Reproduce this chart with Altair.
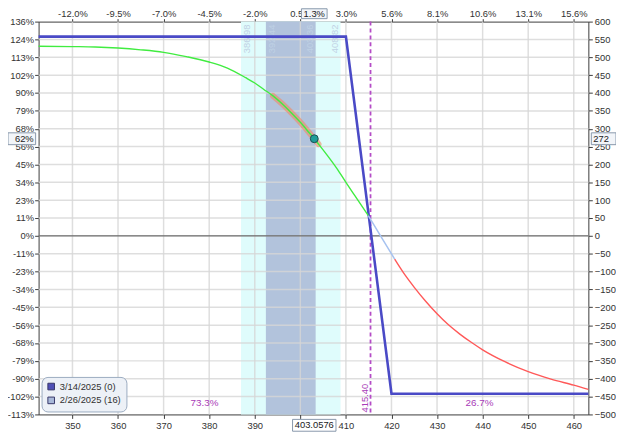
import json
import altair as alt
import pandas as pd

FONT = "Tahoma, 'Liberation Sans', Arial, sans-serif"

# ---------------- data ----------------
x_domain = [342.57, 463.2]
y_domain = [-500, 600]
x_ticks = [350, 360, 370, 380, 390, 400, 410, 420, 430, 440, 450, 460]
top_labels = ["-12.0%", "-9.5%", "-7.0%", "-4.5%", "-2.0%", "0.5%", "3.0%",
              "5.6%", "8.1%", "10.6%", "13.1%", "15.6%"]
y_ticks = list(range(-500, 601, 50))
left_labels = ["-113%", "-102%", "-90%", "-79%", "-68%", "-56%", "-45%", "-34%",
               "-23%", "-11%", "0%", "11%", "23%", "34%", "45%", "56%", "68%",
               "79%", "90%", "102%", "113%", "124%", "136%"]

# expiration P&L (3/14/2025)
exp_price = [342.57, 410.0, 420.0, 463.2]
exp_pl = [558, 558, -442, -442]

# T+0 P&L (2/26/2025): green (profit), pale blue (near zero), red (loss)
green_price = [342.57, 350, 355, 360, 365, 370, 375, 380, 384, 388, 390, 392, 394,
               396, 398, 400, 402, 403.06, 404, 406, 408, 410, 412, 414.92]
green_pl = [531, 530, 529, 526, 521, 514, 502, 487, 470, 443, 428, 410, 392,
            370, 345, 318, 288, 272, 257, 224, 189, 150, 112, 57]
pale_price = [414.92, 417.6, 420.7]
pale_pl = [57, 0, -65]
red_price = [420.7, 423, 425, 427.5, 430, 432.5, 435, 437.5, 440, 445, 450, 455, 460, 463.2]
red_pl = [-65, -110, -144, -183, -218, -249, -275, -298, -319, -353, -380, -401, -418, -430]

highlight_range = [394, 404]

outer_band = [386.98, 408.82]
inner_band = [392.44, 403.36]
band_left_labels = ["386.98", "392.44"]
band_right_labels = ["403.36", "408.82"]

breakeven = 415.40
breakeven_label = "415.40"
prob_labels = ["73.3%", "26.7%"]

current_price = 403.0576
current_price_label = "403.0576"
current_pct_label = "1.3%"
current_pl = 272
current_pl_label = "272"
current_pl_pct_label = "62%"

legend_labels = ["3/14/2025 (0)", "2/26/2025 (16)"]
legend_colors = ["#5050b6", "#a9b9d9"]

# ---------------- layout ----------------
W, H = 557, 398
xs = alt.Scale(domain=x_domain, nice=False, zero=False)
ys = alt.Scale(domain=y_domain, nice=False, zero=False)


def xq(f):
    return alt.X(f, type="quantitative", scale=xs, axis=None)


def yq(f):
    return alt.Y(f, type="quantitative", scale=ys, axis=None)


def box_path(w, h):
    a, b = w / 20.0, h / 20.0
    return f"M{-a},{-b}H{a}V{b}H{-a}Z"


axis_common = dict(title=None, grid=False, domainColor="#3a3a3a", tickColor="#3a3a3a",
                   labelColor="#333333", labelFont=FONT, labelFontSize=9.5,
                   labelFlush=False, labelOverlap=False, domainWidth=1)

top_expr = f"{json.dumps(top_labels)}[round((datum.value - {x_ticks[0]}) / 10)]"
left_expr = f"{json.dumps(left_labels)}[round((datum.value - ({y_ticks[0]})) / 50)]"
# the 400 label sits under the current-price box
bottom_expr = "datum.value == 400 ? '' : datum.label"

# ---------------- layers ----------------
outer = alt.Chart(pd.DataFrame({"lo": [outer_band[0]], "hi": [outer_band[1]]})).mark_rect(
    color="#dffcfc").encode(x=xq("lo"), x2="hi")
inner = alt.Chart(pd.DataFrame({"lo": [inner_band[0]], "hi": [inner_band[1]]})).mark_rect(
    color="#b2c3dc").encode(x=xq("lo"), x2="hi")

vgrid = alt.Chart(pd.DataFrame({"x": x_ticks})).mark_rule(
    color="#d6d6d6", strokeWidth=1.5, opacity=0.8).encode(x=xq("x"))
hgrid = alt.Chart(pd.DataFrame({"y": y_ticks})).transform_filter(
    "datum.y > -500 && datum.y < 600").mark_rule(
    color="#d6d6d6", strokeWidth=1.5, opacity=0.8).encode(y=yq("y"))

blab_l = alt.Chart(pd.DataFrame({"x": [outer_band[0], inner_band[0]], "t": band_left_labels})).mark_text(
    angle=270, align="right", baseline="middle", dx=-3, dy=6, font=FONT, fontSize=9.5,
    color="#bfd1e4").encode(x=xq("x"), y=alt.value(0), text="t:N")
blab_r = alt.Chart(pd.DataFrame({"x": [inner_band[1], outer_band[1]], "t": band_right_labels})).mark_text(
    angle=270, align="right", baseline="middle", dx=-3, dy=-6, font=FONT, fontSize=9.5,
    color="#bfd1e4").encode(x=xq("x"), y=alt.value(0), text="t:N")

zero = alt.Chart(pd.DataFrame({"y": [0]})).mark_rule(color="#505050", strokeWidth=1).encode(y=yq("y"))

be_rule = alt.Chart(pd.DataFrame({"x": [breakeven]})).mark_rule(
    color="#b44cc6", strokeWidth=1.8, strokeDash=[4, 3]).encode(x=xq("x"))

exp_layer = alt.Chart(pd.DataFrame({"price": exp_price, "pl": exp_pl})).mark_line(
    color="#4a4ac6", strokeWidth=2.6).encode(
    x=alt.X("price:Q", scale=xs,
            axis=alt.Axis(orient="bottom", values=x_ticks, format="d", labelExpr=bottom_expr,
                          tickSize=4, labelPadding=2, **axis_common)),
    y=alt.Y("pl:Q", scale=ys,
            axis=alt.Axis(orient="left", values=y_ticks, labelExpr=left_expr, tickSize=4,
                          labelPadding=1, **axis_common)),
)

green_df = pd.DataFrame({"price": green_price, "pl": green_pl})
orange = alt.Chart(green_df).transform_filter(
    f"datum.price >= {highlight_range[0]} && datum.price <= {highlight_range[1]}").mark_line(
    color="#f08a62", strokeWidth=6, opacity=0.6, strokeCap="round", interpolate="monotone").encode(
    x=xq("price"), y=yq("pl"))

green = alt.Chart(green_df).mark_line(color="#40ec40", strokeWidth=1.4, interpolate="monotone").encode(
    x=alt.X("price:Q", scale=xs,
            axis=alt.Axis(orient="top", values=x_ticks, labelExpr=top_expr, tickSize=3,
                          labelPadding=0, **axis_common)),
    y=alt.Y("pl:Q", scale=ys,
            axis=alt.Axis(orient="right", values=y_ticks, format="d", tickSize=4,
                          labelPadding=2, **axis_common)),
)
pale = alt.Chart(pd.DataFrame({"price": pale_price, "pl": pale_pl})).mark_line(
    color="#a6c2f0", strokeWidth=1.5).encode(x=xq("price"), y=yq("pl"))
red = alt.Chart(pd.DataFrame({"price": red_price, "pl": red_pl})).mark_line(
    color="#ff5858", strokeWidth=1.4, interpolate="monotone").encode(x=xq("price"), y=yq("pl"))

cur_df = pd.DataFrame({"price": [current_price], "pl": [current_pl],
                       "plab": [current_price_label], "pct": [current_pct_label],
                       "pllab": [current_pl_label], "plpct": [current_pl_pct_label]})
marker = alt.Chart(cur_df).mark_point(filled=True, size=64, fill="#1f9c98", stroke="#1d4f52",
                                      strokeWidth=1, opacity=1).encode(x=xq("price"), y=yq("pl"))

x_mid = [(x_domain[0] + breakeven) / 2, (breakeven + x_domain[1]) / 2]
prob = alt.Chart(pd.DataFrame({"x": x_mid, "y": [-468, -468], "t": prob_labels})).mark_text(
    font=FONT, fontSize=10, color="#a83ab8", baseline="middle").encode(x=xq("x"), y=yq("y"), text="t:N")

be_text = alt.Chart(pd.DataFrame({"x": [breakeven], "t": [breakeven_label]})).mark_text(
    angle=270, align="left", baseline="middle", dx=2, dy=-6, font=FONT, fontSize=9.5,
    color="#a83ab8").encode(x=xq("x"), y=alt.value(H), text="t:N")

box_style = dict(filled=True, size=400, stroke="#8797ab", strokeWidth=1, opacity=1)
bbox = alt.Chart(cur_df).mark_point(shape=box_path(44, 12), fill="#ffffff", **box_style).encode(
    x=xq("price"), y=alt.value(H + 11))
btxt = alt.Chart(cur_df).mark_text(font=FONT, fontSize=9.5, color="#222222", baseline="middle").encode(
    x=xq("price"), y=alt.value(H + 11), text="plab:N")
tbox = alt.Chart(cur_df).mark_point(shape=box_path(26, 10), fill="#f2f5f9", **box_style).encode(
    x=xq("price"), y=alt.value(-8))
ttxt = alt.Chart(cur_df).mark_text(font=FONT, fontSize=9.5, color="#222222", baseline="middle").encode(
    x=xq("price"), y=alt.value(-8), text="pct:N")
lbox = alt.Chart(cur_df).mark_point(shape=box_path(28, 12), fill="#f2f5f9", **box_style).encode(
    x=alt.value(-17), y=yq("pl"))
ltxt = alt.Chart(cur_df).mark_text(font=FONT, fontSize=9.5, color="#222222", baseline="middle",
                                   align="right").encode(x=alt.value(-5), y=yq("pl"), text="plpct:N")
rbox = alt.Chart(cur_df).mark_point(shape=box_path(25, 12), fill="#f2f5f9", **box_style).encode(
    x=alt.value(W + 15.5), y=yq("pl"))
rtxt = alt.Chart(cur_df).mark_text(font=FONT, fontSize=9.5, color="#222222", baseline="middle",
                                   align="left").encode(x=alt.value(W + 5), y=yq("pl"), text="pllab:N")

legend_layer = alt.Chart(pd.DataFrame({"series": legend_labels})).mark_square(opacity=0).encode(
    color=alt.Color("series:N", scale=alt.Scale(domain=legend_labels, range=legend_colors),
                    legend=alt.Legend(title=None, orient="bottom-left", offset=3, padding=5,
                                      fillColor="#edf1f7", strokeColor="#9aabc0", cornerRadius=6,
                                      symbolType="square", symbolSize=45, symbolOpacity=1,
                                      symbolStrokeColor="#38386a", symbolStrokeWidth=1,
                                      labelFont=FONT, labelFontSize=9.5, labelColor="#333333",
                                      rowPadding=2)))

chart = alt.layer(
    outer, inner, vgrid, hgrid, blab_l, blab_r, zero, be_rule, exp_layer, orange, green,
    pale, red, marker, prob, be_text, bbox, btxt, tbox, ttxt, lbox, ltxt, rbox, rtxt,
    legend_layer,
).resolve_axis(x="independent", y="independent").properties(
    width=W, height=H,
    autosize=alt.AutoSizeParams(type="none"),
    padding={"left": 31, "top": 11, "right": 28, "bottom": 15},
    background="white",
).configure_view(stroke=None)

chart.save("out.html", embed_options={"renderer": "svg", "actions": False})
